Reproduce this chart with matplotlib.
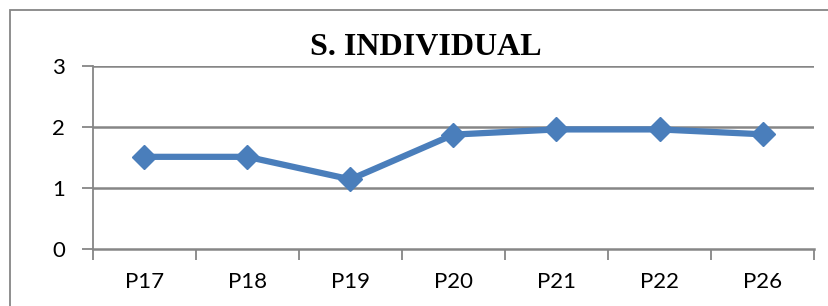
import numpy as np
import matplotlib.pyplot as plt
from matplotlib.patches import Rectangle

categorias = ['P17', 'P18', 'P19', 'P20', 'P21', 'P22', 'P26']
valores = [1.51, 1.51, 1.14, 1.875, 1.96, 1.96, 1.88]
ticks_y = [0, 1, 2, 3]

gris = '#868686'
azul = '#4A7EBB'

fig = plt.figure(figsize=(8.29, 3.06), dpi=100)
ax = fig.add_axes([0.112, 0.187, 0.870, 0.597])

# marco del grafico
fig.patches.append(Rectangle((0.012, -0.1), 1.2, 1.067, transform=fig.transFigure,
                             fill=False, edgecolor=gris, linewidth=1.3))

x = np.arange(len(categorias)) + 0.5
ax.plot(x, valores, color=azul, linewidth=4.5, marker='D', markersize=12,
        markeredgecolor=azul, zorder=3)

ax.set_xlim(0, len(categorias))
ax.set_ylim(0, 3)
ax.set_yticks(ticks_y)
ax.set_yticklabels([str(t) for t in ticks_y], fontsize=16, family='Lato')
ax.set_xticks(np.arange(len(categorias) + 1))
ax.set_xticklabels([])
ax.set_xticks(x, minor=True)
ax.set_xticklabels(categorias, minor=True, fontsize=16, family='Lato')
ax.tick_params(axis='x', which='minor', length=0, pad=17)
ax.tick_params(axis='x', which='major', length=8, width=1.3, color=gris)
ax.tick_params(axis='y', length=8, width=1.3, color=gris, pad=12)

for v in ticks_y[1:]:
    ax.axhline(v, color=gris, linewidth=1.8, zorder=1)

for s in ['top', 'right']:
    ax.spines[s].set_visible(False)
ax.spines['left'].set_color(gris)
ax.spines['left'].set_linewidth(1.3)
ax.spines['bottom'].set_color(gris)
ax.spines['bottom'].set_linewidth(1.8)

fig.text(0.514, 0.845, 'S. INDIVIDUAL', ha='center', va='center',
         fontsize=23, fontweight='bold', family='Liberation Serif')

fig.savefig('out.png', dpi=100)
